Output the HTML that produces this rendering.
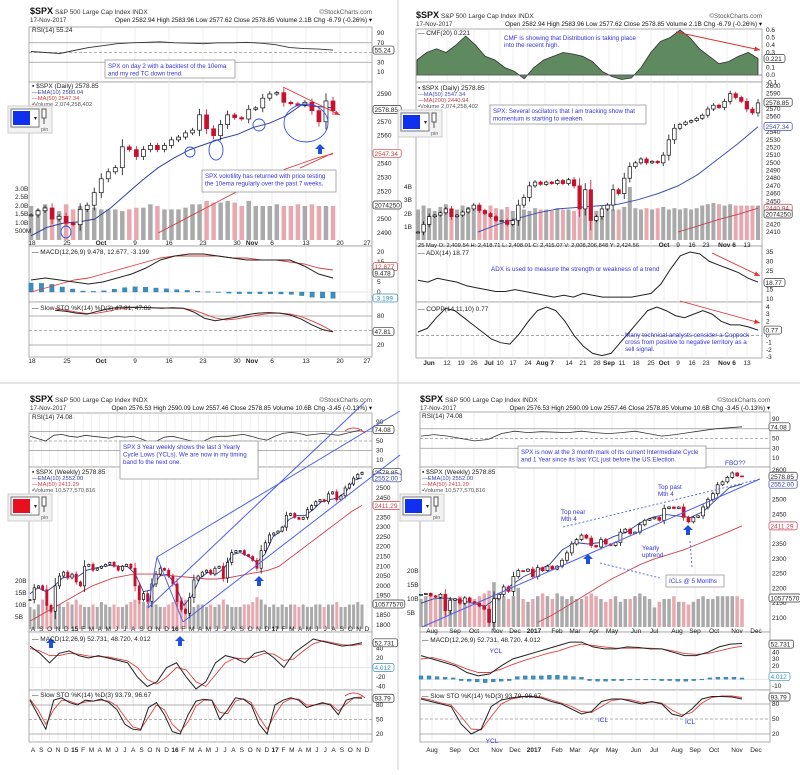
<!DOCTYPE html>
<html><head><meta charset="utf-8">
<style>
body{margin:0;background:#fff;width:800px;height:770px;overflow:hidden;font-family:"Liberation Sans",sans-serif}
svg text{font-family:"Liberation Sans",sans-serif}
</style></head>
<body>
<svg id="c" width="800" height="770" viewBox="0 0 800 770" xmlns="http://www.w3.org/2000/svg"></svg>
<script>
// ===== Panel A (daily, top-left) =====
const aClose=[2503,2506,2508,2500,2502,2497,2496,2507,2510,2519,2529,2534,2537,2552,2550,2545,2550,2553,2550,2553,2557,2559,2562,2564,2575,2565,2560,2568,2575,2573,2572,2579,2580,2587,2590,2591,2584,2583,2582,2584,2578,2570,2585,2578];
const aVol=[2.0,1.8,2.1,1.9,1.7,2.1,1.8,2.0,1.9,1.9,1.8,1.8,1.8,1.7,1.8,1.9,1.9,2.1,2.0,1.8,1.8,1.8,1.9,2.1,2.1,2.3,2.2,2.2,2.3,2.2,2.0,2.3,2.0,2.0,2.0,2.1,2.0,2.0,2.1,2.0,2.1,2.0,2.0,2.0];
const aEma=[2488,2494,2497,2498,2500,2508,2518,2528,2537,2544,2550,2554,2558,2561,2566,2569,2574,2582,2581,2580];
const aMa50=[null,null,null,null,null,null,null,null,2490,2496,2502,2508,2514,2520,2526,2531,2536,2540,2544,2547];
const aRsi=[52,50,48,54,60,64,68,70,71,72,70,69,68,70,70,71,69,66,60,58,57,55];
const aMacd=[6,7,6,5,4,5,7,9,12,16,18,19,19,18,17,16,16,16,16,13,9,7];
const aSignal=[0,2,4,6,7,9,11,13,15,17,18,18,18,18,17,17,16,16,15,14,12,11];
const aHist=[4.5,4.3,3.8,2.5,1.5,0.5,0.3,0.6,1.4,2.2,2.6,2.4,2.0,1.6,1.2,0.8,0.4,0.1,-0.2,-0.6,-0.8,-0.8,-0.9,-0.9,-1,-1.2,-1.8,-2.6,-3.0,-3.2];
const aStoK=[92,90,86,84,90,95,98,98,98,97,96,97,96,88,75,70,74,78,83,86,87,86,82,74,62,52,47];
const aStoD=[96,92,88,85,86,90,95,97,98,97,97,96,96,92,84,76,72,74,78,82,85,86,84,79,70,60,48];
// ===== Panel B (daily, top-right) =====
const bClose=[2410,2420,2430,2432,2435,2440,2430,2432,2436,2440,2445,2438,2434,2430,2425,2425,2420,2425,2445,2455,2470,2475,2472,2475,2473,2477,2473,2478,2470,2440,2465,2425,2430,2440,2445,2465,2460,2480,2495,2500,2505,2500,2502,2500,2510,2530,2545,2550,2553,2555,2558,2562,2570,2575,2572,2580,2590,2585,2580,2570,2565,2578];
const bVol=[2.3,2.6,2.4,2.2,2.5,2.7,2.4,2.3,2.6,2.5,2.3,2.4,2.2,2.6,2.4,2.3,2.5,2.2,2.4,2.3,2.2,2.4,2.3,2.3,2.2,2.4,2.3,2.3,2.2,2.6,2.3,2.6,2.2,2.3,2.4,2.3,2.3,2.5,4.0,2.4,2.3,2.4,2.3,2.4,2.5,2.3,2.4,2.3,2.4,2.3,2.4,2.6,2.7,2.8,2.7,2.6,2.7,2.6,2.6,2.6,2.6,2.6];
const bMa50=[null,null,null,2410,2420,2428,2435,2440,2442,2444,2446,2452,2460,2470,2485,2505,2525,2547];
const bMa200=[null,null,null,null,null,null,null,null,null,null,null,null,null,2410,2418,2426,2433,2441];
const bCmf=[0.2,0.3,0.35,0.3,0.4,0.52,0.4,0.25,0.2,0.1,0.05,-0.05,0.1,0.2,0.25,0.3,0.28,0.25,0.18,0.05,-0.02,-0.06,-0.04,0.1,0.3,0.45,0.5,0.6,0.5,0.35,0.25,0.15,0.18,0.25,0.3,0.22];
const bAdx=[20,19,21,20,19,17,16,15,14,14,15,14,13,12,11,12,11,13,12,11,11,11,11,12,13,18,26,33,35,34,30,28,26,24,21,19];
const bCopp=[0.5,1,2.5,3.8,3.5,2.5,1.5,0.5,-0.5,-1,-1.2,0.2,2,3.5,4,3.5,2,0,-1.5,-2.5,-2.8,-2.5,-1,0.5,2,3.5,4,3.5,2.8,2.5,3,3.5,3,2,1.5,1.5,1.2,0.77];
// ===== Panel C (weekly 3yr, bottom-left) =====
const cClose=[1930,1990,2000,1980,1900,1870,2000,2050,2070,2040,2060,2020,2000,2100,2110,2080,2090,2100,2110,2120,2100,2080,2100,2110,2090,2000,1930,1960,1920,2010,2060,2090,2080,2050,2010,1920,1880,1860,1940,2030,2050,2070,2080,2060,2090,2100,2040,2120,2170,2180,2180,2160,2150,2130,2090,2180,2220,2260,2270,2280,2300,2360,2370,2350,2340,2350,2390,2410,2430,2440,2430,2470,2480,2440,2460,2500,2520,2550,2570,2580];
const cVol=[9,8,10,12,11,9,8,10,9,11,10,12,10,9,9,10,9,11,10,9,10,9,9,10,11,12,13,11,10,11,10,9,9,10,11,12,13,12,10,9,10,10,9,10,9,10,12,10,9,9,9,10,10,11,13,12,10,9,10,9,10,9,10,10,9,10,9,9,10,10,9,10,10,11,9,9,10,10,11,10];
const cEma=[1960,1990,1970,2000,2040,2050,2050,2080,2090,2100,2105,2100,2100,2060,1970,1980,2050,2060,2000,1900,1950,2040,2070,2060,2090,2160,2170,2150,2120,2160,2250,2280,2340,2360,2360,2390,2430,2440,2450,2480,2540,2552];
const cMa50=[1820,1850,1880,1910,1940,1970,2000,2020,2040,2050,2060,2060,2060,2055,2050,2045,2040,2035,2035,2040,2050,2060,2070,2080,2100,2140,2180,2220,2260,2300,2340,2380,2411];
const cRsi=[60,55,50,62,64,60,58,62,60,58,56,60,58,60,55,48,50,58,60,56,52,48,50,58,60,60,62,64,60,55,52,60,66,68,66,62,64,66,64,62,66,70,74];
const cMacd=[45,30,10,30,35,25,20,25,20,15,10,-20,-40,-30,0,10,-20,-45,-30,10,25,20,10,30,35,20,0,30,45,60,55,50,45,48,52];
const cSignal=[40,35,25,25,30,28,24,23,22,18,14,0,-25,-35,-20,0,-5,-30,-40,-15,10,20,18,22,30,28,15,18,35,50,56,52,48,46,49];
const cStoK=[90,60,30,90,95,85,80,90,88,92,85,70,40,30,28,75,85,60,25,20,60,88,92,90,50,70,95,92,80,40,20,80,90,95,90,75,80,85,80,60,90,95,94];
const cStoD=[92,70,40,70,90,88,82,86,88,90,88,78,55,35,30,55,80,70,40,25,45,78,90,90,65,62,88,93,85,55,30,60,85,93,92,80,80,83,82,68,82,95,97];
// ===== Panel D (weekly 1yr+, bottom-right) =====
const dClose=[2180,2183,2175,2170,2180,2125,2160,2165,2150,2168,2155,2150,2140,2130,2085,2165,2180,2205,2190,2240,2260,2258,2265,2240,2270,2260,2275,2265,2275,2295,2320,2350,2365,2380,2370,2345,2340,2365,2350,2345,2355,2390,2400,2385,2390,2415,2430,2435,2440,2430,2470,2475,2470,2475,2440,2425,2440,2445,2475,2500,2520,2550,2560,2575,2590,2580,2578];
const dVol=[10,11,12,10,11,9,10,10,11,9,10,10,11,12,13,16,12,11,10,11,14,10,9,10,11,12,11,10,12,11,10,11,10,10,11,12,11,10,9,10,11,9,10,10,11,12,11,10,7,9,10,10,11,9,9,8,9,10,11,10,10,11,11,11,11,11,10];
const dEma=[2150,2165,2168,2160,2150,2140,2170,2210,2240,2260,2280,2330,2355,2350,2355,2375,2390,2420,2440,2450,2445,2440,2460,2500,2540,2552];
const dMa50=[null,null,null,null,null,null,null,null,2085,2110,2140,2170,2200,2230,2255,2280,2300,2315,2330,2350,2370,2390,2411];
const dRsi=[55,58,55,50,45,48,60,65,62,64,63,62,65,62,60,62,65,60,55,58,62,66,70,72,74];
const dMacd=[35,30,25,20,10,5,8,20,30,35,40,45,50,55,55,48,45,45,48,47,45,45,40,35,35,40,48,52,53];
const dSignal=[30,32,28,22,15,10,10,15,22,28,33,38,42,48,52,50,48,46,46,46,46,45,42,38,37,38,42,46,49];
const dHist=[5,5,4,3,2,-2,-3,-4,-5,-4,-3,-2,4,5,5,5,6,6,5,4,3,-2,-3,-3,-2,-2,-1,-1,-1,-1,-2,-2,-3,-3,-2,-1,2,3,3,3,2];
const dStoK=[90,85,80,75,40,20,30,75,88,92,95,95,92,85,80,70,60,65,85,90,90,85,80,85,80,60,55,70,90,95,95,94,90];
const dStoD=[92,88,82,78,55,30,28,55,80,90,94,95,94,88,82,75,65,63,75,87,90,88,83,84,82,68,58,63,82,93,96,96,93];

const svg=document.getElementById('c');
const NS='http://www.w3.org/2000/svg';
function el(tag,attrs,parent){const e=document.createElementNS(NS,tag);for(const k in attrs)e.setAttribute(k,attrs[k]);(parent||svg).appendChild(e);return e;}
function txt(x,y,s,size,fill,anchor,weight){const t=el('text',{x:x,y:y,'font-size':size,fill:fill||'#222','text-anchor':anchor||'start','font-weight':weight||'normal'});t.textContent=s;return t;}
function lin(a,b,d){return v=>b[0]+(v-a[0])*(b[1]-b[0])/(a[1]-a[0]);}
function idxX(n,x0,x1){return i=>x0+i*(x1-x0)/(n-1);}
function drawLine(arr,x0,x1,y,color,w,name){
  const X=idxX(arr.length,x0,x1);let d='';let pen=false;
  arr.forEach((v,i)=>{if(v===null){pen=false;return;}d+=(pen?'L':'M')+X(i).toFixed(1)+','+y(v).toFixed(1);pen=true;});
  const p=el('path',{d:d,fill:'none',stroke:color,'stroke-width':w||1});
  
  
  return p;
}
function drawArea(arr,x0,x1,y,base,name){
  const X=idxX(arr.length,x0,x1);
  let d='M'+X(0)+','+y(base);arr.forEach((v,i)=>{d+='L'+X(i).toFixed(1)+','+y(v).toFixed(1);});d+='L'+X(arr.length-1)+','+y(base)+'Z';
  const p=el('path',{d:d,fill:'#5f8a5f',stroke:'#333','stroke-width':0.8});
  
  
}
function drawCandles(arr,x0,x1,y,w,name){
  const X=idxX(arr.length,x0,x1);const g=el('g',{});
  
  
  arr.forEach((c,i)=>{const o=i>0?arr[i-1]:c;const up=c>=o;const col=up?'#111':'#c8102e';
    const hi=Math.max(o,c)+Math.abs(c-o)*0.3+1,lo=Math.min(o,c)-Math.abs(c-o)*0.3-1;
    el('line',{x1:X(i),x2:X(i),y1:y(hi),y2:y(lo),stroke:col,'stroke-width':0.8},g);
    const t=Math.min(y(o),y(c));el('rect',{x:X(i)-w/2,y:t,width:w,height:Math.max(1,Math.abs(y(o)-y(c))),fill:up?'#fff':'#c8102e',stroke:col,'stroke-width':0.7},g);});
}
function drawBars(arr,x0,x1,y,base,w,closes,name,hist){
  const X=idxX(arr.length,x0,x1);const g=el('g',{});
  
  
  arr.forEach((v,i)=>{let col;
    if(hist)col='#3a8fc0';else{const ci=Math.round(i*(closes.length-1)/(arr.length-1));col=(ci>0&&closes[ci]<closes[ci-1])?'#e8a8b0':'#aaaaaa';}
    const a=y(v),b=y(base);el('rect',{x:X(i)-w/2,y:Math.min(a,b),width:w,height:Math.max(0.5,Math.abs(a-b)),fill:col,stroke:hist?'#1f6a9a':'none','stroke-width':0.3},g);});
}
function frame(x0,x1,ys,gx,name){
  const g=el('g',{});
  
  
  for(let i=0;i<ys.length-1;i++){el('rect',{x:x0,y:ys[i],width:x1-x0,height:ys[i+1]-ys[i],fill:'#fff',stroke:'#999','stroke-width':0.8},g);}
  gx.forEach(x=>el('line',{x1:x,x2:x,y1:ys[0],y2:ys[ys.length-1],stroke:'#e4e4e4','stroke-width':0.6},g));
}
function hline(x0,x1,yv,dash,col){el('line',{x1:x0,x2:x1,y1:yv,y2:yv,stroke:col||'#999','stroke-width':0.8,'stroke-dasharray':dash?'3,2':'none'});}
function rlabels(x,ys,labs){labs.forEach((s,i)=>txt(x,ys[i]+2,s,6.5,'#222'));}
function tag(x,y,s,col){const r=el('rect',{x:x,y:y-4,width:s.length*3.6+3,height:8,rx:2,fill:'#fff',stroke:col||'#333','stroke-width':0.7});txt(x+1.5,y+2.5,s,6.5,col||'#222');}
function note(x,y,w,h,lines,name){const g=el('g',{});
  
  
  el('rect',{x:x,y:y,width:w,height:h,fill:'#fff',stroke:'#999','stroke-width':0.8},g);
  lines.forEach((s,i)=>{const t=el('text',{x:x+3,y:y+8+i*7.5,'font-size':6.2,fill:'#3333dd'},g);t.textContent=s;});}
function btxt(x,y,s){txt(x,y,s,6.3,'#3333dd');}
function header(x,y,right,ohlc){
  txt(x,y,'$SPX',9,'#111','start','bold');txt(x+25,y,'S&P 500 Large Cap Index  INDX',6.5,'#333');
  txt(right,y,'©StockCharts.com',6.3,'#555','end');
  txt(x,y+8,'17-Nov-2017',6.3,'#333');txt(right,y+8,ohlc,6.3,'#111','end');
}
function pin(x,y,col){const g=el('g',{});
  
  
  el('rect',{x:x,y:y,width:44,height:27,fill:'#f2f2f2',stroke:'#ccc'},g);
  el('rect',{x:x+3,y:y+3,width:28,height:18,fill:'#fff',stroke:'#777'},g);
  el('rect',{x:x+5,y:y+5,width:17,height:14,fill:col},g);
  txt(x+26,y+14,'▾',6,'#222');
  el('rect',{x:x+34,y:y+3,width:4,height:9,fill:'#fff',stroke:'#555'},g);
  el('line',{x1:x+36,x2:x+36,y1:y+12,y2:y+18,stroke:'#555'},g);
  txt(x+33,y+25,'pin',5.5,'#666');}
function arrowUp(x,y){const p=el('path',{d:`M${x},${y} l-5,5 h3 v5 h4 v-5 h3 z`,fill:'#1e50e0'});}
function redArrow(x1,y1,x2,y2){el('line',{x1:x1,y1:y1,x2:x2,y2:y2,stroke:'#e03030','stroke-width':0.9});
  const a=Math.atan2(y2-y1,x2-x1);el('path',{d:`M${x2},${y2} L${x2-6*Math.cos(a-0.4)},${y2-6*Math.sin(a-0.4)} L${x2-6*Math.cos(a+0.4)},${y2-6*Math.sin(a+0.4)}Z`,fill:'#e03030'});}
function xlabels(y,pos,labs,bold){labs.forEach((s,i)=>txt(pos[i],y,s,6.5,'#222','middle',bold&&bold.includes(s)?'bold':'normal'));}

// outer frames
el('rect',{x:0,y:0,width:800,height:770,fill:'#fff'});
el('line',{x1:398,x2:398,y1:0,y2:770,stroke:'#ccc'});
el('line',{x1:0,x2:800,y1:383,y2:383,stroke:'#ccc'});

// ===== Panel A =====
(function(){
 const L=29,R=372;const Ys=[27,82,246,302,357];
 const xpos=[32,67,101,135,169,203,237,252,272,306,340,367];
 frame(L,R,Ys,xpos,'panel-a-frame');
 header(30,14,372,'Open 2582.94  High 2583.96  Low 2577.62  Close 2578.85  Volume 2.1B  Chg -6.79 (-0.26%) ▾');
 // RSI
 const yR=lin([90,10],[33,72]);[70,30].forEach(v=>hline(L,R,yR(v)));hline(L,R,yR(50),true);
 drawLine(aRsi,31,333,yR,'#333',0.9,'rsi-line-a');
 txt(32,32,'RSI(14) 55.24',6.5,'#222');rlabels(377,[90,70,30,10].map(yR),['90','70','30','10']);tag(373,yR(55),'55.24');
 note(105,60,130,18,['SPX on day 2 with  a backtest of the 10ema','and my red TC down trend.'],'note-a-top');
 // price
 const y=lin([2490,2590],[233,94]);const yV=lin([0,3],[240,189]);
 drawBars(aVol,31,333,yV,0,4.5,aClose,'volume-bars-a');
 drawLine(aMa50,31,333,y,'#d04040',0.9,'ma50-line-a');
 drawLine(aEma,31,333,y,'#3040a0',1,'ema10-line-a');
 drawCandles(aClose,31,333,y,4,'candles-a');
 rlabels(377,[2590,2570,2560,2540,2530,2520,2500,2490].map(y),['2590','2570','2560','2540','2530','2520','2500','2490']);
 tag(373,y(2578.85),'2578.85');tag(373,y(2547.34),'2547.34','#d04040');tag(373,205,'2074250');
 rlabels(15,[189,197,206,214,223,231],['3.0B','2.5B','2.0B','1.5B','1.0B','500M']);
 txt(32,88,'▪ $SPX (Daily) 2578.85',6.5,'#222');txt(32,94,'—EMA(10) 2580.04',5.8,'#3040a0');txt(32,100,'—MA(50) 2547.34',5.8,'#d04040');txt(32,106,'▪Volume 2,074,258,402',5.8,'#555');
 redArrow(283,87,340,115);el('line',{x1:300,y1:168,x2:333,y2:153,stroke:'#e03030','stroke-width':0.9});
 [[66,232,5,6],[190,152,5,5],[216,150,7,10],[259,125,6,6],[306,123,22,19]].forEach(c=>{const e=el('ellipse',{cx:c[0],cy:c[1],rx:c[2],ry:c[3],fill:'none',stroke:'#3050e0','stroke-width':0.9});});
 arrowUp(320,144);
 note(202,170,134,22,['SPX volotility has returned with price testing','the 10ema regularly over the past 7 weeks.'],'note-a-price');
 // MACD
 const yM=lin([20,0],[252,292]);hline(L,R,yM(0),false,'#ddd');
 drawBars(aHist,31,333,yM,0,4.5,null,'macd-hist-a',true);
 drawLine(aSignal,31,333,yM,'#e04040',0.9,'macd-signal-a');drawLine(aMacd,31,333,yM,'#222',1,'macd-line-a');
 txt(32,254,'— MACD(12,26,9) 9.478, 12.677, -3.199',6.5,'#222');
 rlabels(377,[20,15,5,0].map(yM),['20','15','5','0']);tag(373,yM(12.7),'12.677','#d04040');tag(373,yM(9.5),'9.478');tag(373,298,'-3.199','#3a8fc0');
 // STO
 const yS=lin([80,20],[316,345]);hline(L,R,yS(80));hline(L,R,yS(20));hline(L,R,yS(50),true);
 drawLine(aStoD,55,333,yS,'#e04040',0.9,'sto-d-a');drawLine(aStoK,55,333,yS,'#222',1,'sto-k-a');
 txt(32,310,'— Slow STO %K(14) %D(3) 47.81, 47.82',6.5,'#222');
 rlabels(377,[80,20].map(yS),['80','20']);tag(373,yS(47.8),'47.81');
 xlabels(363,xpos,['18','25','Oct','9','16','23','30','Nov','6','13','20','27'],['Oct','Nov']);
 xlabels(245,xpos,['18','25','Oct','9','16','23','30','Nov','6','13','20','27'],['Oct','Nov']);
 pin(8,106,'#1030f0');
})();

// ===== Panel B =====
(function(){
 const L=416,R=762;const Ys=[29,82,246,302,358];
 const xpos=[429,447,461,474,489,500,513,528,545,569,583,597,609,622,636,651,664,678,692,706,727,747];
 frame(L,R,Ys,xpos,'panel-b-frame');
 header(416,18,762,'Open 2582.94  High 2583.96  Low 2577.62  Close 2578.85  Volume 2.1B  Chg -6.79 (-0.26%) ▾');
 const yC=lin([0.6,0],[30,75]);drawArea(bCmf,417,758,yC,0,'cmf-area-b');hline(L,R,yC(0),false,'#666');
 txt(418,35,'— CMF(20) 0.221',6.5,'#222');
 rlabels(766,[0.6,0.5,0.4,0.3,0.2,0.1,0,-0.1].map(yC),['0.6','0.5','0.4','0.3','0.2','0.1','0.0','-0.1']);tag(764,yC(0.22),'0.221');
 btxt(504,40,'CMF is showing that Distribution  is taking place');btxt(504,47,'into the recent high.');
 redArrow(676,32,760,50);
 const y=lin([2410,2600],[232,86]);const yV=lin([0,4],[240,187]);
 drawBars(bVol,418,758,yV,0,4,bClose,'volume-bars-b');
 drawLine(bMa200,418,758,y,'#c04050',0.9,'ma200-line-b');drawLine(bMa50,418,758,y,'#4050b0',1,'ma50-line-b');
 drawCandles(bClose,418,758,y,3.5,'candles-b');
 const pl=[2600,2590,2570,2560,2540,2530,2520,2510,2500,2490,2480,2470,2460,2450,2420,2410];
 rlabels(766,pl.map(y),pl.map(String));tag(764,y(2578.85),'2578.85');tag(764,y(2547.34),'2547.34','#4050b0');tag(764,y(2440.94),'2440.94','#c04050');tag(764,214,'2074250');
 rlabels(404,[187,200,214,227],['4B','3B','2B','1B']);
 txt(418,90,'▪ $SPX (Daily) 2578.85',6.5,'#222');txt(418,96,'—MA(50) 2547.34',5.8,'#4050b0');txt(418,102,'—MA(200) 2440.94',5.8,'#c04050');txt(418,108,'▪Volume 2,074,258,402',5.8,'#555');
 note(490,105,156,19,['SPX: Several oscilators that I am tracking show that','momentum is starting to weaken.'],'note-b-price');
 txt(418,247,'25 May  O: 2,409.54   H: 2,418.71   L: 2,408.01   C: 2,415.07   V: 2,008,206,848   Y: 2,424.56',5.8,'#222');
 xlabels(247,[664,678,692,706,727,747],['Oct','9','16','23','Nov 6','13'],['Oct','Nov 6']);
 const yA=lin([35,10],[252,299]);drawLine(bAdx,418,758,yA,'#222',1,'adx-line-b');
 txt(418,255,'— ADX(14) 18.77',6.5,'#222');rlabels(766,[35,30,25,15,10].map(yA),['35','30','25','15','10']);tag(764,yA(18.77),'18.77');
 btxt(491,271,'ADX is used to measure the strength or weakness of a trend');
 redArrow(712,253,760,276);
 const yP=lin([4,-3],[307,357]);hline(L,R,yP(0),true);drawLine(bCopp,418,758,yP,'#222',1,'copp-line-b');
 txt(418,311,'— COPP(14,11,10) 0.77',6.5,'#222');rlabels(766,[4,3,2,0,-1,-2,-3].map(yP),['4','3','2','0','-1','-2','-3']);tag(764,yP(0.77),'0.77');
 redArrow(680,301,760,323);
 btxt(625,337,'Many technical analysts consider a Coppock');btxt(625,344,'cross from positive to negative territory as a');btxt(625,351,'sell signal.');
 xlabels(365,xpos,['Jun','12','19','26','Jul','10','17','24','Aug 7','14','21','28','Sep','11','18','25','Oct','9','16','23','Nov 6','13'],['Jun','Jul','Aug 7','Sep','Oct','Nov 6']);
 pin(398,110,'#1030f0');
})();

// ===== Panel C =====
(function(){
 const L=29,R=372;const Ys=[413,467,632,690,742];
 const labs=['A','S','O','N','D','15','F','M','A','M','J','J','A','S','O','N','D','16','F','M','A','M','J','J','A','S','O','N','D','17','F','M','A','M','J','J','A','S','O','N','D'];
 const xpos=labs.map((s,i)=>33+i*8.35);
 frame(L,R,Ys,xpos,'panel-c-frame');
 header(30,402,372,'Open 2576.53  High 2590.09  Low 2557.46  Close 2578.85  Volume 10.6B  Chg -3.45 (-0.13%) ▾');
 const yR=lin([90,10],[422,460]);hline(L,R,yR(70));hline(L,R,yR(30));hline(L,R,yR(50),true);
 drawLine(cRsi,30,362,yR,'#333',0.8,'rsi-line-c');
 txt(32,419,'RSI(14) 74.08',6.5,'#222');rlabels(376,[90,50,30,10].map(yR),['90','50','30','10']);tag(373,yR(74),'74.08');
 note(120,441,138,38,['SPX 3 Year weekly shows the last 3 Yearly','Cycle Lows (YCLs). We are now in my timing','band fo the next one.'],'note-c');
 const y=lin([1800,2500],[625,488]);const yV=lin([0,20],[629,580]);
 drawBars(cVol,30,362,yV,0,3,cClose,'volume-bars-c');
 drawLine(cMa50,30,362,y,'#d04050',0.9,'ma50-line-c');drawLine(cEma,30,362,y,'#3040a0',0.9,'ema10-line-c');
 drawCandles(cClose,30,362,y,2.2,'candles-c');
 const pl=[2500,2450,2350,2300,2250,2200,2150,2100,2050,2000,1950,1850,1800];
 rlabels(376,pl.map(y),pl.map(String));tag(373,y(2578.85),'2578.85');tag(373,y(2552),'2552.00','#3040a0');tag(373,y(2411.29),'2411.29','#d04050');tag(373,604,'10577570');
 rlabels(15,[581,593,605,617],['20B','15B','10B','5B']);
 txt(32,474,'▪ $SPX (Weekly) 2578.85',6.5,'#222');txt(32,480,'—EMA(10) 2552.00',5.8,'#3040a0');txt(32,486,'—MA(50) 2411.29',5.8,'#d04050');txt(32,492,'▪Volume 10,577,570,816',5.8,'#555');
 // channels
 [[148,608,365,402],[157,557,400,411],[183,622,400,455]].forEach((c,i)=>{const l=el('line',{x1:c[0],y1:c[1],x2:c[2],y2:c[3],stroke:'#5060e8','stroke-width':1});});
 el('line',{x1:157,y1:557,x2:183,y2:622,stroke:'#5060e8','stroke-width':1});
 el('line',{x1:148,y1:608,x2:157,y2:557,stroke:'#5060e8','stroke-width':1});
 arrowUp(259,576);arrowUp(51,638);arrowUp(180,636);
 el('path',{d:'M345,431 q10,-7 20,2',fill:'none',stroke:'#e03030','stroke-width':0.9});
 el('path',{d:'M345,696 q10,-7 20,2',fill:'none',stroke:'#e03030','stroke-width':0.9});
 const yM=lin([20,-20],[658,677]);hline(L,R,yM(0),false,'#ddd');
 drawLine(cSignal,30,362,yM,'#e04040',0.9,'macd-signal-c');drawLine(cMacd,30,362,yM,'#222',1,'macd-line-c');
 txt(32,641,'— MACD(12,26,9) 52.731, 48.720, 4.012',6.5,'#222');rlabels(376,[40,20,-20,-40].map(yM),['40','20','-20','-40']);tag(373,yM(52),'52.731');tag(373,yM(0),'4.012','#3a8fc0');
 const yS=lin([80,20],[705,734]);hline(L,R,yS(80));hline(L,R,yS(20));hline(L,R,yS(50),true);
 drawLine(cStoD,30,362,yS,'#e04040',0.9,'sto-d-c');drawLine(cStoK,30,362,yS,'#222',1,'sto-k-c');
 txt(32,697,'— Slow STO %K(14) %D(3) 93.79, 96.67',6.5,'#222');rlabels(376,[80,50,20].map(yS),['80','50','20']);tag(373,yS(94),'93.79');
 xlabels(752,xpos,labs,['15','16','17']);xlabels(631,xpos,labs,['15','16','17']);
 pin(8,494,'#e81020');
})();

// ===== Panel D =====
(function(){
 const L=420,R=770;const Ys=[412,467,632,690,742];
 const xpos=[432,455,474,497,515,534,557,575,594,612,636,654,677,695,714,737,756];
 const labs=['Aug','Sep','Oct','Nov','Dec','2017','Feb','Mar','Apr','May','Jun','Jul','Aug','Sep','Oct','Nov','Dec'];
 frame(L,R,Ys,xpos,'panel-d-frame');
 header(420,402,770,'Open 2576.53  High 2590.09  Low 2557.46  Close 2578.85  Volume 10.6B  Chg -3.45 (-0.13%) ▾');
 const yR=lin([90,10],[419,458]);hline(L,R,yR(70));hline(L,R,yR(30));hline(L,R,yR(50),true);
 drawLine(dRsi,421,742,yR,'#333',0.8,'rsi-line-d');
 txt(422,418,'RSI(14) 74.08',6.5,'#222');rlabels(772,[90,50,30,10].map(yR),['90','50','30','10']);tag(769,yR(74),'74.08');
 note(518,446,188,22,['SPX is now at the 3 month mark of its current Intermediate Cycle','and 1 Year since its last YCL just before the US Election.'],'note-d');
 const y=lin([2100,2600],[618,470]);const yV=lin([0,20],[627,571]);
 drawBars(dVol,421,742,yV,0,3.5,dClose,'volume-bars-d');
 drawLine(dMa50,421,742,y,'#d04050',0.9,'ma50-line-d');drawLine(dEma,421,742,y,'#3040a0',0.9,'ema10-line-d');
 drawCandles(dClose,421,742,y,3,'candles-d');
 const pl=[2600,2500,2450,2350,2300,2250,2200,2150,2100];
 rlabels(772,pl.map(y),pl.map(String));tag(769,y(2578.85),'2578.85');tag(769,y(2552),'2552.00','#3040a0');tag(769,y(2411.29),'2411.29','#d04050');tag(769,598,'10577570');
 rlabels(407,[571,585,599,613],['20B','15B','10B','5B']);
 txt(422,474,'▪ $SPX (Weekly) 2578.85',6.5,'#222');txt(422,480,'—EMA(10) 2552.00',5.8,'#3040a0');txt(422,486,'—MA(50) 2411.29',5.8,'#d04050');txt(422,492,'▪Volume 10,577,570,816',5.8,'#555');
 el('line',{x1:422,y1:627,x2:760,y2:479,stroke:'#5060e8','stroke-width':1});
 el('line',{x1:563,y1:527,x2:760,y2:479,stroke:'#5060e8','stroke-width':0.9,'stroke-dasharray':'2,2'});
 el('path',{d:'M600,563 L660,578 M690,541 L692,568',stroke:'#5060e8','stroke-width':0.9,'stroke-dasharray':'2,2'});
 txt(725,465,'FBO??',6.5,'#3333dd');
 btxt(561,514,'Top near');btxt(561,521,'Mth 4');btxt(658,489,'Top past');btxt(658,496,'Mth 4');
 btxt(642,550,'Yearly');btxt(642,557,'uptrend');
 note(666,575,58,12,['ICLs @ 5 Months'],'note-icl');
 arrowUp(588,554);arrowUp(688,525);
 const yM=lin([30,-10],[659,686]);hline(L,R,yM(0),false,'#ddd');
 drawBars(dHist,421,742,yM,0,4,null,'macd-hist-d',true);
 drawLine(dSignal,421,742,yM,'#e04040',0.9,'macd-signal-d');drawLine(dMacd,421,742,yM,'#222',1,'macd-line-d');
 txt(422,642,'— MACD(12,26,9) 52.731, 48.720, 4.012',6.5,'#222');rlabels(772,[40,30,20,-10].map(yM),['40','30','20','-10']);tag(769,yM(52),'52.731');tag(769,yM(4),'4.012','#3a8fc0');
 txt(496,653,'YCL',6.5,'#3333dd','middle');
 const yS=lin([80,20],[704,734]);hline(L,R,yS(80));hline(L,R,yS(20));hline(L,R,yS(50),true);
 drawLine(dStoD,421,742,yS,'#e04040',0.9,'sto-d-d');drawLine(dStoK,421,742,yS,'#222',1,'sto-k-d');
 txt(422,698,'— Slow STO %K(14) %D(3) 93.79, 96.67',6.5,'#222');rlabels(772,[80,50,20].map(yS),['80','50','20']);tag(769,yS(94),'93.79');
 txt(492,743,'YCL',6.5,'#3333dd','middle');txt(603,722,'ICL',6.5,'#3333dd','middle');txt(690,724,'ICL',6.5,'#3333dd','middle');
 xlabels(752,xpos,labs,['2017']);xlabels(633,xpos,labs,['2017']);
 pin(400,494,'#1030f0');
})();
</script>
</body></html>
